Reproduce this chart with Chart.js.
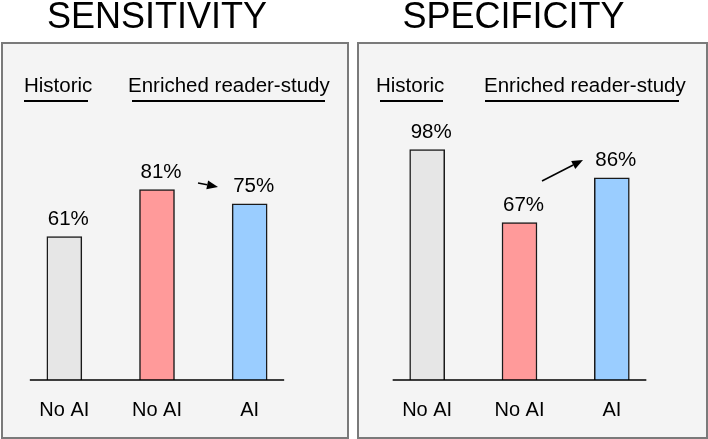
<!DOCTYPE html>
<html>
<head>
<meta charset="utf-8">
<script src="https://cdn.jsdelivr.net/npm/chart.js@4.4.1/dist/chart.umd.min.js"></script>
<style>
  body { margin: 0; background: #fff; }
  #wrap { position: relative; width: 708px; height: 439px; }
  canvas { position: absolute; top: 0; }
</style>
</head>
<body>
<div id="wrap">
  <canvas id="sens" width="354" height="439" style="left:0"></canvas>
  <canvas id="spec" width="354" height="439" style="left:354px"></canvas>
</div>
<script>
const panelTitles = ["SENSITIVITY", "SPECIFICITY"];
const categories = ["No AI", "No AI", "AI"];
const groupNames = ["Historic", "Enriched reader-study"];
const sensitivity = [61, 81, 75];
const specificity = [98, 67, 86];

const FONT = "'Liberation Sans', Arial, Helvetica, sans-serif";
const barFills = ["#e6e6e6", "#ff9a9a", "#9acdff"];

// panel-specific layout (box, headers, arrow)
const panels = [
  {
    id: "sens", title: panelTitles[0], values: sensitivity,
    padding: { left: 18, right: 58, top: 145, bottom: 7 },
    box: { x: 2, y: 43, w: 346, h: 395 },
    headers: [
      { text: groupNames[0], x: 24, lx1: 24, lx2: 88 },
      { text: groupNames[1], x: 128, lx1: 132, lx2: 325 }
    ],
    arrow: { x1: 198, y1: 183, x2: 218, y2: 187 },
    titleShift: 0
  },
  {
    id: "spec", title: panelTitles[1], values: specificity,
    padding: { left: 27, right: 50, top: 145, bottom: 7 },
    box: { x: 4, y: 43, w: 349, h: 395 },
    headers: [
      { text: groupNames[0], x: 22, lx1: 26, lx2: 89 },
      { text: groupNames[1], x: 130, lx1: 131, lx2: 325 }
    ],
    arrow: { x1: 188, y1: 181, x2: 229, y2: 160 },
    titleShift: -6
  }
];

const drawArrow = (ctx, a) => {
  const ang = Math.atan2(a.y2 - a.y1, a.x2 - a.x1);
  const hl = 11, hw = 4.5;
  const bx = a.x2 - hl * Math.cos(ang), by = a.y2 - hl * Math.sin(ang);
  ctx.strokeStyle = "#000";
  ctx.lineWidth = 1.5;
  ctx.beginPath();
  ctx.moveTo(a.x1, a.y1);
  ctx.lineTo(bx, by);
  ctx.stroke();
  ctx.fillStyle = "#000";
  ctx.beginPath();
  ctx.moveTo(a.x2, a.y2);
  ctx.lineTo(bx + hw * Math.sin(ang), by - hw * Math.cos(ang));
  ctx.lineTo(bx - hw * Math.sin(ang), by + hw * Math.cos(ang));
  ctx.closePath();
  ctx.fill();
};

const panelDecor = {
  id: "panelDecor",
  beforeDraw(chart, args, opts) {
    const ctx = chart.ctx, b = opts.box;
    ctx.save();
    ctx.fillStyle = "#fff";
    ctx.fillRect(0, 0, chart.width, chart.height);
    ctx.fillStyle = "#f4f4f4";
    ctx.fillRect(b.x, b.y, b.w, b.h);
    ctx.strokeStyle = "#7a7a7a";
    ctx.lineWidth = 2;
    ctx.strokeRect(b.x, b.y, b.w, b.h);

    // title
    const ca = chart.chartArea;
    ctx.fillStyle = "#000";
    ctx.font = "36px " + FONT;
    ctx.textAlign = "center";
    ctx.textBaseline = "alphabetic";
    ctx.fillText(opts.title, (ca.left + ca.right) / 2 + opts.titleShift, 28);

    // group headers + underlines
    ctx.font = "20.5px " + FONT;
    ctx.textAlign = "left";
    opts.headers.forEach(h => {
      ctx.fillText(h.text, h.x, 92);
      ctx.fillRect(h.lx1, 100, h.lx2 - h.lx1, 2);
    });
    ctx.restore();
  },
  afterDatasetsDraw(chart, args, opts) {
    const ctx = chart.ctx;
    const meta = chart.getDatasetMeta(0);
    const bars = meta.data;
    const base = chart.scales.y.getPixelForValue(0);
    ctx.save();
    // baseline
    ctx.strokeStyle = "#000";
    ctx.lineWidth = 1.5;
    ctx.beginPath();
    ctx.moveTo(bars[0].x - 34.5, base);
    ctx.lineTo(bars[bars.length - 1].x + 34.5, base);
    ctx.stroke();
    // value labels
    ctx.fillStyle = "#000";
    ctx.font = "20.5px " + FONT;
    ctx.textAlign = "center";
    ctx.textBaseline = "alphabetic";
    const vals = chart.data.datasets[0].data;
    bars.forEach((bar, i) => {
      ctx.fillText(vals[i] + "%", bar.x + 4, bar.y - 12);
    });
    drawArrow(ctx, opts.arrow);
    ctx.restore();
  }
};

panels.forEach(p => {
  new Chart(document.getElementById(p.id), {
    type: "bar",
    data: {
      labels: categories,
      datasets: [{
        data: p.values,
        backgroundColor: barFills,
        borderColor: "#1a1a1a",
        borderWidth: 1.5,
        barThickness: 35
      }]
    },
    options: {
      responsive: false,
      animation: false,
      devicePixelRatio: 1,
      layout: { padding: p.padding },
      plugins: {
        legend: { display: false },
        tooltip: { enabled: false },
        panelDecor: {
          title: p.title, box: p.box, headers: p.headers,
          arrow: p.arrow, titleShift: p.titleShift
        }
      },
      scales: {
        x: {
          grid: { display: false },
          border: { display: false },
          ticks: {
            color: "#000",
            padding: 10,
            font: { size: 20, family: FONT }
          }
        },
        y: {
          display: false,
          min: 0,
          max: 100
        }
      }
    },
    plugins: [panelDecor]
  });
});
</script>
</body>
</html>
